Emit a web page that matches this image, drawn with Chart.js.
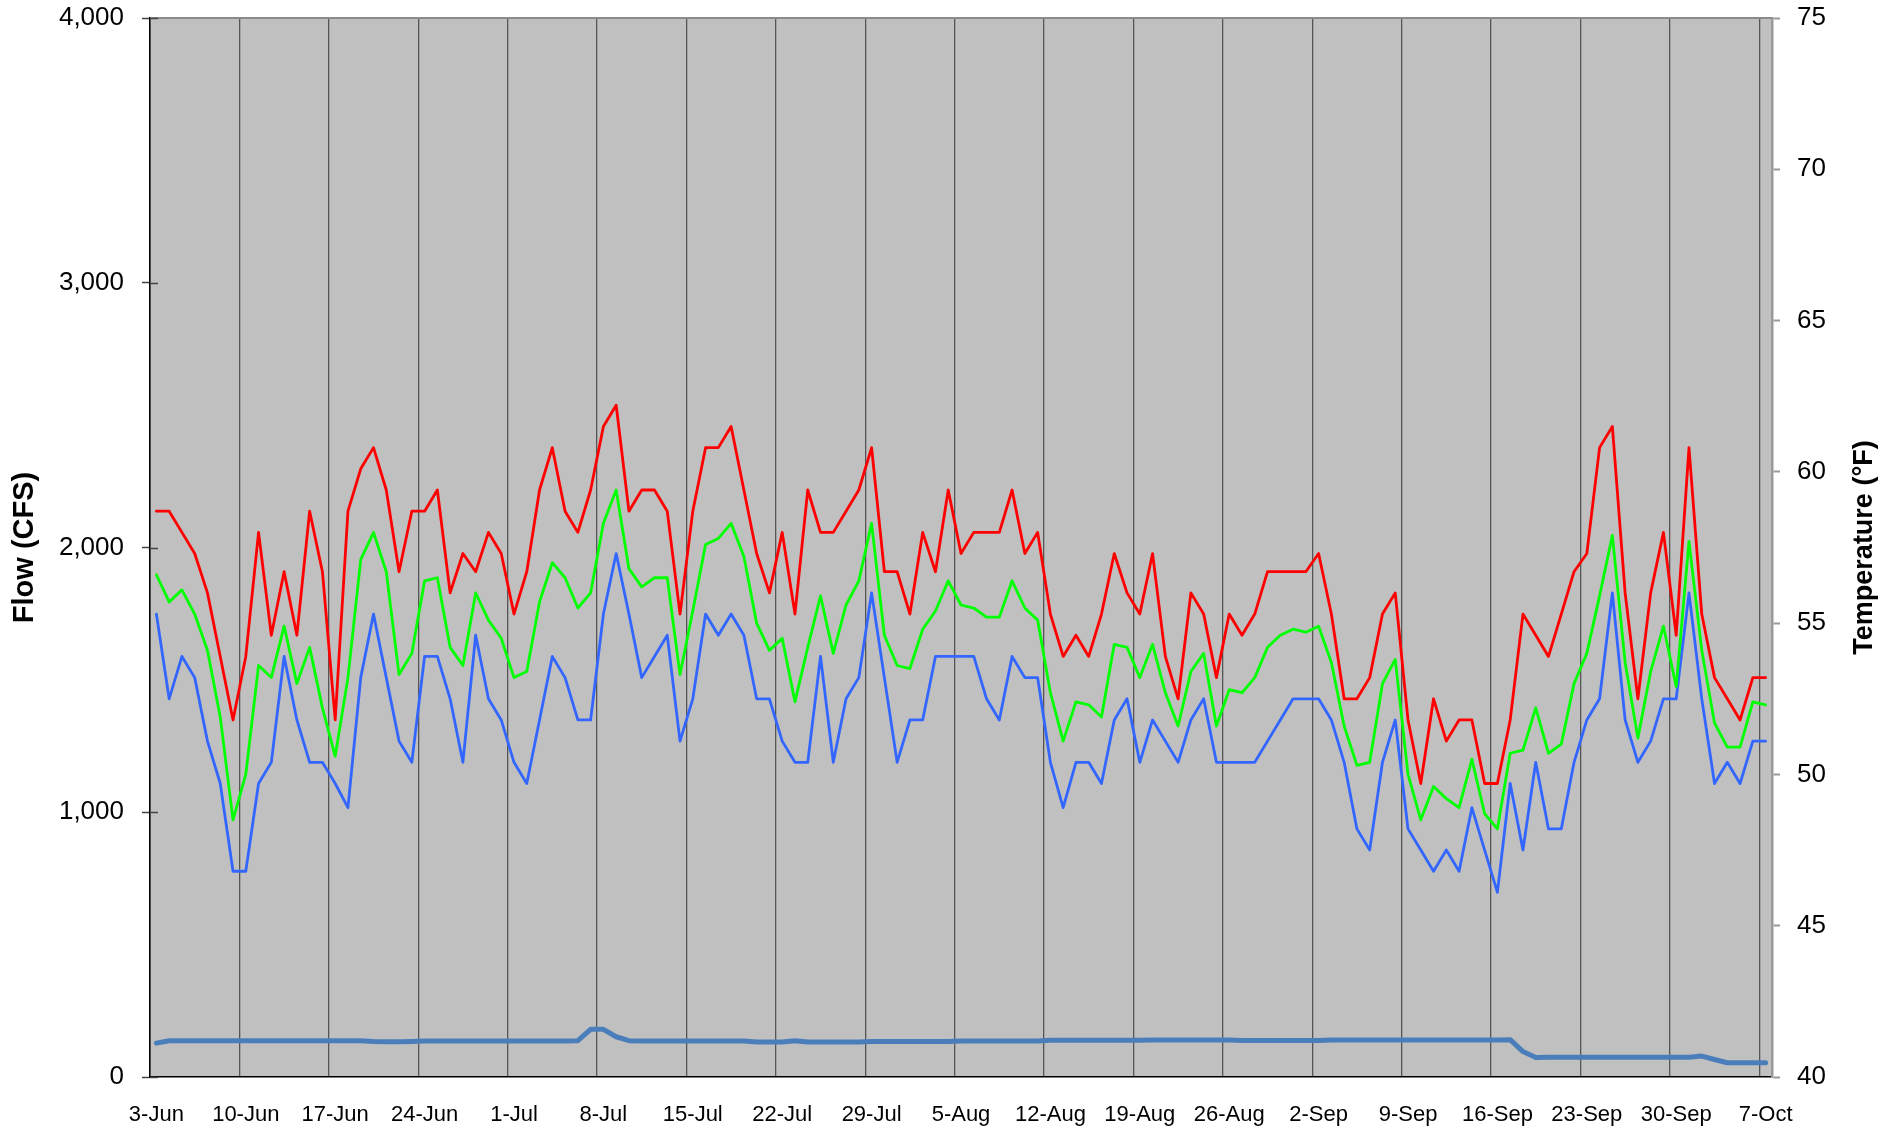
<!DOCTYPE html>
<html>
<head>
<meta charset="utf-8">
<script src="https://cdn.jsdelivr.net/npm/chart.js@4/dist/chart.umd.min.js"></script>
<style>
  html, body { margin: 0; padding: 0; background: #fff; }
  #wrap { width: 1898px; height: 1128px; }
</style>
</head>
<body>
<div id="wrap"><canvas id="grafico" width="1898" height="1128"></canvas></div>
<script>
// ---- daily series, 3-Jun .. 7-Oct (one row = one week) ----
const TEMP_MAX = [
  58.7, 58.7, 58.0, 57.3, 56.0, 53.9, 51.8,
  53.9, 58.0, 54.6, 56.7, 54.6, 58.7, 56.7,
  51.8, 58.7, 60.1, 60.8, 59.4, 56.7, 58.7,
  58.7, 59.4, 56.0, 57.3, 56.7, 58.0, 57.3,
  55.3, 56.7, 59.4, 60.8, 58.7, 58.0, 59.4,
  61.5, 62.2, 58.7, 59.4, 59.4, 58.7, 55.3,
  58.7, 60.8, 60.8, 61.5, 59.4, 57.3, 56.0,
  58.0, 55.3, 59.4, 58.0, 58.0, 58.7, 59.4,
  60.8, 56.7, 56.7, 55.3, 58.0, 56.7, 59.4,
  57.3, 58.0, 58.0, 58.0, 59.4, 57.3, 58.0,
  55.3, 53.9, 54.6, 53.9, 55.3, 57.3, 56.0,
  55.3, 57.3, 53.9, 52.5, 56.0, 55.3, 53.2,
  55.3, 54.6, 55.3, 56.7, 56.7, 56.7, 56.7,
  57.3, 55.3, 52.5, 52.5, 53.2, 55.3, 56.0,
  51.8, 49.7, 52.5, 51.1, 51.8, 51.8, 49.7,
  49.7, 51.8, 55.3, 54.6, 53.9, 55.3, 56.7,
  57.3, 60.8, 61.5, 56.0, 52.5, 56.0, 58.0,
  54.6, 60.8, 55.3, 53.2, 52.5, 51.8, 53.2,
  53.2
];

const TEMP_MEAN = [
  56.6, 55.7, 56.1, 55.3, 54.1, 51.9, 48.5,
  50.0, 53.6, 53.2, 54.9, 53.0, 54.2, 52.2,
  50.6, 53.2, 57.1, 58.0, 56.7, 53.3, 54.0,
  56.4, 56.5, 54.2, 53.6, 56.0, 55.1, 54.5,
  53.2, 53.4, 55.7, 57.0, 56.5, 55.5, 56.0,
  58.3, 59.4, 56.8, 56.2, 56.5, 56.5, 53.3,
  55.4, 57.6, 57.8, 58.3, 57.2, 55.0, 54.1,
  54.5, 52.4, 54.2, 55.9, 54.0, 55.6, 56.4,
  58.3, 54.6, 53.6, 53.5, 54.8, 55.4, 56.4,
  55.6, 55.5, 55.2, 55.2, 56.4, 55.5, 55.1,
  52.7, 51.1, 52.4, 52.3, 51.9, 54.3, 54.2,
  53.2, 54.3, 52.7, 51.6, 53.4, 54.0, 51.6,
  52.8, 52.7, 53.2, 54.2, 54.6, 54.8, 54.7,
  54.9, 53.7, 51.6, 50.3, 50.4, 53.0, 53.8,
  50.0, 48.5, 49.6, 49.2, 48.9, 50.5, 48.7,
  48.2, 50.7, 50.8, 52.2, 50.7, 51.0, 53.0,
  54.0, 55.9, 57.9, 53.7, 51.2, 53.4, 54.9,
  52.9, 57.7, 54.1, 51.7, 50.9, 50.9, 52.4,
  52.3
];

const TEMP_MIN = [
  55.3, 52.5, 53.9, 53.2, 51.1, 49.7, 46.8,
  46.8, 49.7, 50.4, 53.9, 51.8, 50.4, 50.4,
  49.7, 48.9, 53.2, 55.3, 53.2, 51.1, 50.4,
  53.9, 53.9, 52.5, 50.4, 54.6, 52.5, 51.8,
  50.4, 49.7, 51.8, 53.9, 53.2, 51.8, 51.8,
  55.3, 57.3, 55.3, 53.2, 53.9, 54.6, 51.1,
  52.5, 55.3, 54.6, 55.3, 54.6, 52.5, 52.5,
  51.1, 50.4, 50.4, 53.9, 50.4, 52.5, 53.2,
  56.0, 53.2, 50.4, 51.8, 51.8, 53.9, 53.9,
  53.9, 53.9, 52.5, 51.8, 53.9, 53.2, 53.2,
  50.4, 48.9, 50.4, 50.4, 49.7, 51.8, 52.5,
  50.4, 51.8, 51.1, 50.4, 51.8, 52.5, 50.4,
  50.4, 50.4, 50.4, 51.1, 51.8, 52.5, 52.5,
  52.5, 51.8, 50.4, 48.2, 47.5, 50.4, 51.8,
  48.2, 47.5, 46.8, 47.5, 46.8, 48.9, 47.5,
  46.1, 49.7, 47.5, 50.4, 48.2, 48.2, 50.4,
  51.8, 52.5, 56.0, 51.8, 50.4, 51.1, 52.5,
  52.5, 56.0, 52.5, 49.7, 50.4, 49.7, 51.1,
  51.1
];

const FLOW = [
  128, 137, 137, 137, 137, 137, 137,
  137, 137, 137, 137, 137, 137, 137,
  137, 137, 137, 134, 133, 133, 134,
  136, 136, 136, 136, 136, 136, 136,
  136, 136, 136, 136, 136, 137, 180,
  180, 152, 137, 136, 136, 136, 136,
  136, 136, 136, 136, 136, 132, 132,
  132, 137, 132, 132, 132, 132, 132,
  134, 134, 134, 134, 134, 134, 134,
  136, 136, 136, 136, 136, 136, 136,
  139, 139, 139, 139, 139, 139, 139,
  139, 140, 140, 140, 140, 140, 140,
  140, 138, 138, 138, 138, 138, 138,
  138, 140, 140, 140, 140, 140, 140,
  140, 140, 140, 140, 140, 140, 140,
  140, 141,  96,  74,  75,  75,  75,
   75,  75,  75,  75,  75,  75,  75,
   75,  75,  79,  66,  54,  54,  54,
   54
];

// ---- axes ----
const FLOW_TICKS = { min: 0, max: 4000, step: 1000 };
const TEMP_TICKS = { min: 40, max: 75, step: 5 };
const MESES = ['Jan','Feb','Mar','Apr','May','Jun','Jul','Aug','Sep','Oct','Nov','Dec'];
const INICIO = new Date(2000, 5, 3);   // 3-Jun
const SEMANA = 7;                       // label + gridline every 7 days

const DIAS = TEMP_MAX.map((_, i) => {
  const d = new Date(INICIO);
  d.setDate(d.getDate() + i);
  return `${d.getDate()}-${MESES[d.getMonth()]}`;
});

const FONTE = "'Liberation Sans', Arial, sans-serif";
Chart.defaults.font.family = FONTE;
Chart.defaults.color = '#000';

// gray plot area, top frame line, inner half of the left ticks, right title
const moldura = {
  id: 'moldura',
  beforeDraw(chart) {
    const { ctx, chartArea: a } = chart;
    ctx.save();
    ctx.fillStyle = '#c0c0c0';
    ctx.fillRect(a.left, a.top, a.right - a.left, a.bottom - a.top);
    ctx.restore();
  },
  afterDraw(chart) {
    const { ctx, chartArea: a } = chart;
    ctx.save();
    ctx.strokeStyle = '#8a8a8a';
    ctx.lineWidth = 2;
    ctx.beginPath();
    ctx.moveTo(a.left, a.top);
    ctx.lineTo(a.right, a.top);
    ctx.stroke();

    const y = chart.scales.y;
    ctx.strokeStyle = '#444';
    ctx.lineWidth = 1.5;
    y.ticks.forEach((t, i) => {
      const py = Math.round(y.getPixelForTick(i)) + 0.5;
      ctx.beginPath();
      ctx.moveTo(a.left, py);
      ctx.lineTo(a.left + 8, py);
      ctx.stroke();
    });

    ctx.translate(1865, (a.top + a.bottom) / 2);
    ctx.rotate(-Math.PI / 2);
    ctx.fillStyle = '#000';
    ctx.font = `bold 27px ${FONTE}`;
    ctx.textAlign = 'center';
    ctx.textBaseline = 'middle';
    ctx.fillText('Temperature (°F)', 0, 0);
    ctx.restore();
  }
};

function linha(label, data, cor, eixo, largura) {
  return {
    label, data, yAxisID: eixo,
    borderColor: cor, backgroundColor: cor,
    borderWidth: largura, pointRadius: 0, tension: 0,
    borderJoinStyle: 'round', borderCapStyle: 'round', fill: false
  };
}

// fixed axis boxes so the plot area stays put
function larguraFixa(w) {
  return s => { s.width = w; s.paddingTop = 0; s.paddingBottom = 0; };
}

new Chart(document.getElementById('grafico').getContext('2d'), {
  type: 'line',
  data: {
    labels: DIAS,
    datasets: [
      linha('Max', TEMP_MAX, '#ff0000', 'y2', 2.8),
      linha('Mean', TEMP_MEAN, '#00ff00', 'y2', 2.8),
      linha('Min', TEMP_MIN, '#3366ff', 'y2', 2.8),
      linha('Flow', FLOW, '#4a7ebb', 'y', 5),
    ]
  },
  options: {
    responsive: false,
    animation: false,
    events: [],
    layout: { padding: { top: 18, right: 0, bottom: 0, left: 0 } },
    plugins: { legend: { display: false }, tooltip: { enabled: false } },
    scales: {
      x: {
        offset: true,
        afterFit: s => { s.height = 51; },
        grid: {
          offset: true,
          drawTicks: false,
          lineWidth: 1.3,
          color: ctx => ctx.index % SEMANA === 0 ? '#555555' : 'rgba(0,0,0,0)'
        },
        border: { display: true, color: '#000', width: 1.5 },
        ticks: {
          autoSkip: false, maxRotation: 0, minRotation: 0, padding: 25,
          font: { size: 22 },
          callback: (v, i) => i % SEMANA === 0 ? DIAS[i] : ''
        }
      },
      y: {
        position: 'left',
        min: FLOW_TICKS.min, max: FLOW_TICKS.max,
        afterFit: larguraFixa(150),
        grid: { drawOnChartArea: false, drawTicks: true, tickLength: 8, tickColor: '#444', tickWidth: 1.5 },
        border: { display: true, color: '#000', width: 1.5 },
        ticks: {
          stepSize: FLOW_TICKS.step, padding: 18,
          font: { size: 26 },
          callback: v => v.toLocaleString('en-US')
        },
        title: {
          display: true, text: 'Flow (CFS)',
          font: { size: 29, weight: 'bold' },
          padding: { top: 8, bottom: 0 }
        }
      },
      y2: {
        position: 'right',
        min: TEMP_TICKS.min, max: TEMP_TICKS.max,
        afterFit: larguraFixa(126),
        grid: { drawOnChartArea: false, drawTicks: true, tickLength: 8, tickColor: '#999', tickWidth: 2 },
        border: { display: true, color: '#999', width: 2.5 },
        ticks: { stepSize: TEMP_TICKS.step, padding: 17, font: { size: 26 } }
      }
    }
  },
  plugins: [moldura]
});
</script>
</body>
</html>
